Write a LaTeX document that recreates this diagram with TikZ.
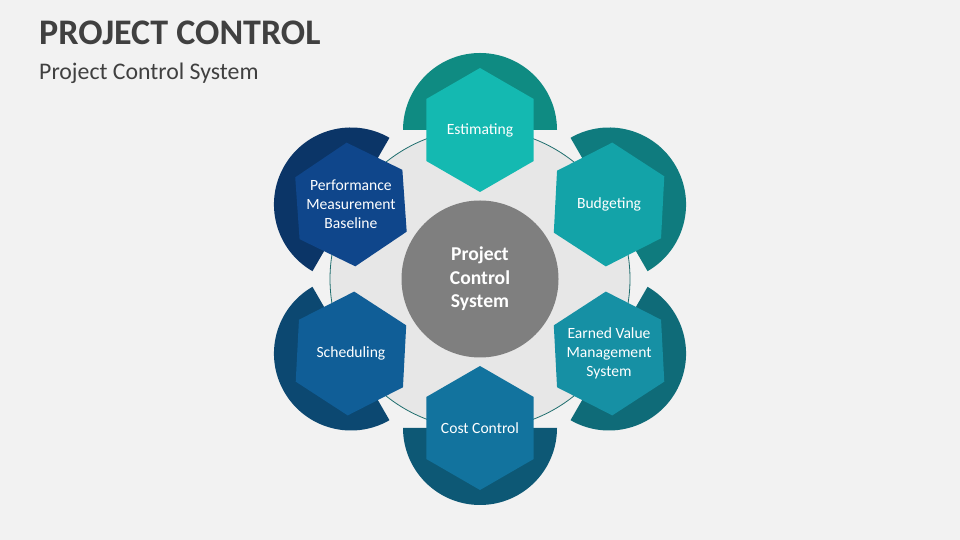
\documentclass[tikz,border=0pt]{standalone}
\usepackage{fontspec}
\setmainfont{Carlito}
\usepackage{tikz}
\usetikzlibrary{shapes.geometric, calc}
\definecolor{bgcol}{HTML}{F2F2F2}
\definecolor{titlecol}{HTML}{404040}
\definecolor{ringcol}{HTML}{E7E7E7}
\definecolor{ringline}{HTML}{1F6E6E}
\definecolor{midcol}{HTML}{7F7F7F}
\definecolor{esthex}{HTML}{14B9B1}
\definecolor{estback}{HTML}{0F8B82}
\definecolor{budhex}{HTML}{13A3A8}
\definecolor{budback}{HTML}{0F7B7E}
\definecolor{evmhex}{HTML}{1690A4}
\definecolor{evmback}{HTML}{0F6B78}
\definecolor{costhex}{HTML}{12739E}
\definecolor{costback}{HTML}{0D5875}
\definecolor{schedhex}{HTML}{105E97}
\definecolor{schedback}{HTML}{0C4871}
\definecolor{perfhex}{HTML}{0F468B}
\definecolor{perfback}{HTML}{0B3567}
\tikzstyle{hexa} = [regular polygon, regular polygon sides=6, shape border rotate=30, minimum size=124pt, inner sep=0pt]
\tikzstyle{hexlabel} = [text=white, align=center, font=\fontsize{15.6}{19}\selectfont]

\begin{document}
\begin{tikzpicture}[x=1pt,y=1pt]
\fill [bgcol] (0,0) rectangle (960,540);
\node [anchor=base west, inner sep=0pt, text=titlecol, font=\fontsize{36}{40}\selectfont\bfseries] (title) at (39,495) {PROJECT CONTROL};
\node [anchor=base west, inner sep=0pt, text=titlecol, font=\fontsize{23.8}{26}\selectfont] (subtitle) at (39,460) {Project Control System};
\node [circle, draw=ringline, fill=ringcol, line width=0.8pt, minimum size=300pt, inner sep=0pt] (ring) at (480,261) {};
% hexagon centres round the ring
\coordinate (p1) at ($(ring.center)+(90:149)$);
\coordinate (p2) at ($(ring.center)+(30:149)$);
\coordinate (p3) at ($(ring.center)+(-30:149)$);
\coordinate (p4) at ($(ring.center)+(-90:149)$);
\coordinate (p5) at ($(ring.center)+(-150:149)$);
\coordinate (p6) at ($(ring.center)+(150:149)$);
% half discs behind
\fill [estback] ($(p1)+(0:77)$) arc [start angle=0, end angle=180, radius=77] -- cycle;
\fill [budback] ($(p2)+(-60:77)$) arc [start angle=-60, end angle=120, radius=77] -- cycle;
\fill [evmback] ($(p3)+(-120:77)$) arc [start angle=-120, end angle=60, radius=77] -- cycle;
\fill [costback] ($(p4)+(180:77)$) arc [start angle=180, end angle=360, radius=77] -- cycle;
\fill [schedback] ($(p5)+(120:77)$) arc [start angle=120, end angle=300, radius=77] -- cycle;
\fill [perfback] ($(p6)+(60:77)$) arc [start angle=60, end angle=240, radius=77] -- cycle;
% hexagons
\node [hexa, fill=esthex] (est) at (p1) {};
\node [hexa, fill=budhex, rotate=-3] (bud) at (p2) {};
\node [hexa, fill=evmhex, rotate=3] (evm) at (p3) {};
\node [hexa, fill=costhex] (cost) at (p4) {};
\node [hexa, fill=schedhex, rotate=-3] (sched) at (p5) {};
\node [hexa, fill=perfhex, rotate=4] (perf) at (p6) {};
\node [hexlabel] (esttext) at (est.center) {Estimating};
\node [hexlabel] (budtext) at (bud.center) {Budgeting};
\node [hexlabel] (evmtext) at (evm.center) {Earned Value\\Management\\System};
\node [hexlabel] (costtext) at (cost.center) {Cost Control};
\node [hexlabel] (schedtext) at (sched.center) {Scheduling};
\node [hexlabel] (perftext) at (perf.center) {Performance\\Measurement\\Baseline};
\node [circle, fill=midcol, minimum size=157pt, inner sep=0pt, text=white, align=center, font=\fontsize{19.6}{23.5}\selectfont\bfseries] (core) at (ring.center) {Project\\Control\\System};
\end{tikzpicture}
\end{document}
